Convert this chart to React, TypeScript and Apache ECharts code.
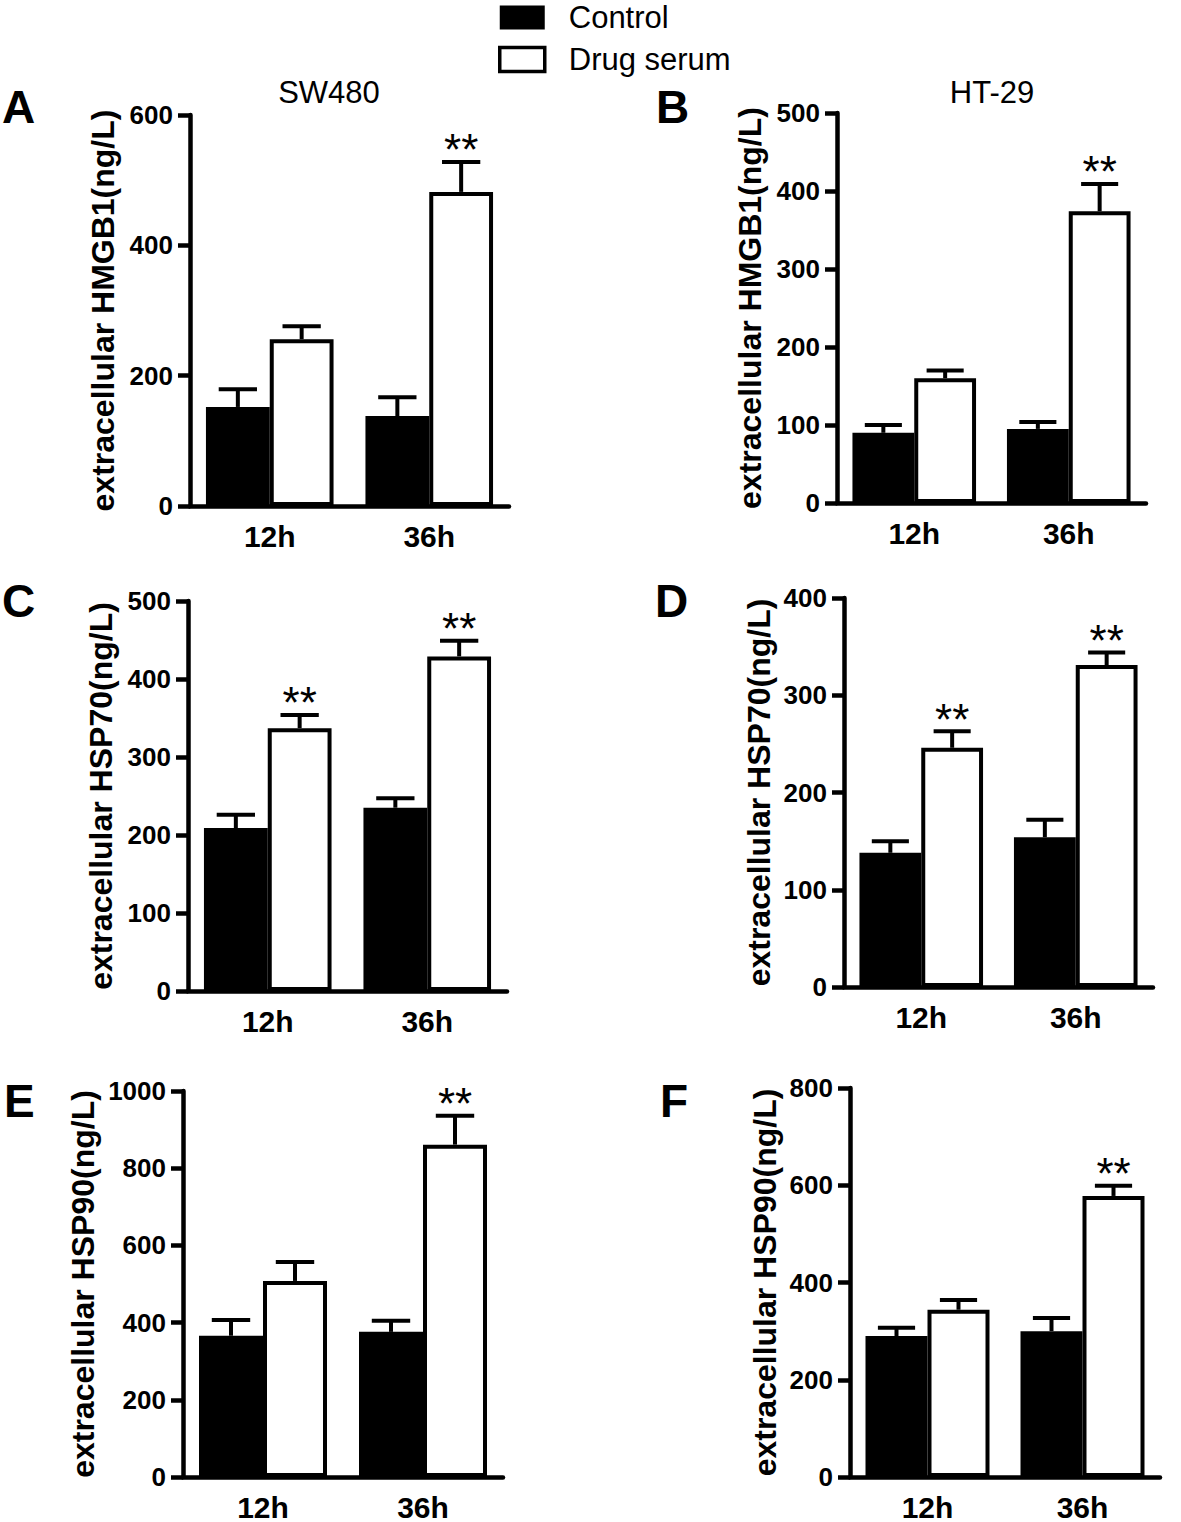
import React, { useEffect, useRef } from "react";
import * as echarts from "echarts";

const categories = ["12h", "36h"];
const seriesNames = ["Control", "Drug serum"];
const panelLetters = ["A", "B", "C", "D", "E", "F"];
const columnTitles = ["SW480", "HT-29"];
const yAxisNames = [
  "extracellular HMGB1(ng/L)",
  "extracellular HMGB1(ng/L)",
  "extracellular HSP70(ng/L)",
  "extracellular HSP70(ng/L)",
  "extracellular HSP90(ng/L)",
  "extracellular HSP90(ng/L)",
];
const yMax = [600, 500, 500, 400, 1000, 800];
const yInterval = [200, 100, 100, 100, 200, 200];

// means and SEM (upper error bar) per panel, [12h, 36h]
const controlMean = [
  [152, 138],
  [90, 95],
  [209, 235],
  [138, 154],
  [366, 376],
  [290, 300],
];
const controlSem = [
  [27, 29],
  [10, 9],
  [17, 12],
  [12, 18],
  [41, 29],
  [17, 27],
];
const drugMean = [
  [256, 482],
  [160, 374],
  [337, 429],
  [246, 331],
  [508, 861],
  [344, 578],
];
const drugSem = [
  [20, 46],
  [10, 35],
  [17, 20],
  [17, 13],
  [49, 75],
  [20, 21],
];
// significance marks (**) on drug serum bars
const drugSig = [
  [0, 1],
  [0, 1],
  [1, 1],
  [1, 1],
  [0, 1],
  [0, 1],
];

// layout (pixels)
const gridBoxes = [
  { left: 190, top: 115, width: 319, height: 391, nameGap: 71 },
  { left: 837, top: 113, width: 309, height: 390, nameGap: 71 },
  { left: 188, top: 601, width: 319, height: 390, nameGap: 71 },
  { left: 844, top: 598, width: 309, height: 389, nameGap: 69 },
  { left: 183, top: 1091, width: 320, height: 388, nameGap: 84 },
  { left: 850, top: 1088, width: 310, height: 389, nameGap: 69 },
];
const letterPos = [
  [2, 107],
  [656, 107],
  [2, 601],
  [655, 601],
  [4, 1101],
  [660, 1101],
];
const titlePos = [
  [329, 92],
  [992, 92],
];

const FONT = "Arial, 'Liberation Sans', Helvetica, sans-serif";

function makeErrRender(side: number) {
  return (params: any, api: any) => {
    const ci = api.value(0);
    const mean = api.value(1);
    const sem = api.value(2);
    const sig = api.value(3);
    const band = api.size([1, 0])[0];
    const c = api.coord([ci, mean]);
    const t = api.coord([ci, mean + sem]);
    const x = c[0] + side * band * 0.2;
    const capHalf = band * 0.4 * 0.3;
    const st = { stroke: "#000", lineWidth: 4 };
    const children: any[] = [
      { type: "line", shape: { x1: x, y1: c[1], x2: x, y2: t[1] }, style: st },
      { type: "line", shape: { x1: x - capHalf, y1: t[1], x2: x + capHalf, y2: t[1] }, style: st },
    ];
    if (sig) {
      children.push({
        type: "text",
        x: x,
        y: t[1] - 12,
        style: {
          text: "**",
          fontSize: 44,
          fontFamily: FONT,
          fill: "#000",
          textAlign: "center",
          textVerticalAlign: "middle",
        },
      });
    }
    return { type: "group", children };
  };
}

export default function App() {
  const ref = useRef<HTMLDivElement>(null);
  useEffect(() => {
    if (!ref.current) return;
    const chart = echarts.init(ref.current, null, { renderer: "svg" });
    const grids: any[] = [];
    const xAxes: any[] = [];
    const yAxes: any[] = [];
    const series: any[] = [];
    gridBoxes.forEach((g, i) => {
      grids.push({ left: g.left, top: g.top, width: g.width, height: g.height, containLabel: false });
      xAxes.push({
        type: "category",
        gridIndex: i,
        data: categories,
        axisLine: { lineStyle: { color: "#000", width: 4.5 } },
        axisTick: { alignWithLabel: true, length: 12, lineStyle: { color: "#000", width: 4.5 } },
        axisLabel: { color: "#000", fontSize: 30, fontWeight: "bold", fontFamily: FONT, margin: 15 },
        splitLine: { show: false },
      });
      yAxes.push({
        type: "value",
        gridIndex: i,
        min: 0,
        max: yMax[i],
        interval: yInterval[i],
        name: yAxisNames[i],
        nameLocation: "middle",
        nameGap: g.nameGap,
        nameTextStyle: { color: "#000", fontSize: 32, fontWeight: "bold", fontFamily: FONT },
        axisLine: { show: true, lineStyle: { color: "#000", width: 4.5 } },
        axisTick: { show: true, length: 12, lineStyle: { color: "#000", width: 4.5 } },
        axisLabel: {
          color: "#000",
          fontSize: 26,
          fontWeight: "bold",
          fontFamily: FONT,
          margin: 17,
          formatter: (v: number) => String(v),
        },
        splitLine: { show: false },
      });
      series.push({
        type: "bar",
        name: seriesNames[0],
        xAxisIndex: i,
        yAxisIndex: i,
        data: controlMean[i],
        barGap: "0%",
        barCategoryGap: "20%",
        itemStyle: { color: "#000" },
      });
      series.push({
        type: "bar",
        name: seriesNames[1],
        xAxisIndex: i,
        yAxisIndex: i,
        data: drugMean[i],
        barGap: "0%",
        barCategoryGap: "20%",
        itemStyle: { color: "#fff", borderColor: "#000", borderWidth: 4 },
      });
      series.push({
        type: "custom",
        name: "errC" + i,
        xAxisIndex: i,
        yAxisIndex: i,
        z: 5,
        renderItem: makeErrRender(-1),
        data: categories.map((_, k) => [k, controlMean[i][k], controlSem[i][k], 0]),
      });
      series.push({
        type: "custom",
        name: "errD" + i,
        xAxisIndex: i,
        yAxisIndex: i,
        z: 5,
        renderItem: makeErrRender(1),
        data: categories.map((_, k) => [k, drugMean[i][k], drugSem[i][k], drugSig[i][k]]),
      });
    });

    const graphics: any[] = [];
    panelLetters.forEach((l, i) => {
      graphics.push({
        type: "text",
        x: letterPos[i][0],
        y: letterPos[i][1],
        style: {
          text: l,
          fontSize: 46,
          fontWeight: "bold",
          fontFamily: FONT,
          fill: "#000",
          textAlign: "left",
          textVerticalAlign: "middle",
        },
      });
    });
    columnTitles.forEach((t, i) => {
      graphics.push({
        type: "text",
        x: titlePos[i][0],
        y: titlePos[i][1],
        style: {
          text: t,
          fontSize: 31,
          fontFamily: FONT,
          fill: "#000",
          textAlign: "center",
          textVerticalAlign: "middle",
        },
      });
    });

    chart.setOption({
      animation: false,
      backgroundColor: "#fff",
      legend: {
        orient: "vertical",
        left: 498,
        top: 2,
        padding: 0,
        itemWidth: 45,
        itemHeight: 24,
        itemGap: 11,
        icon: "rect",
        selectedMode: false,
        textStyle: { color: "#000", fontSize: 31, fontFamily: FONT, padding: [0, 0, 0, 19] },
        data: [
          { name: seriesNames[0], itemStyle: { color: "#000", borderWidth: 0 } },
          { name: seriesNames[1], itemStyle: { color: "#fff", borderColor: "#000", borderWidth: 3.5 } },
        ],
      },
      grid: grids,
      xAxis: xAxes,
      yAxis: yAxes,
      series,
      graphic: graphics,
    });
    return () => chart.dispose();
  }, []);
  return (
    <div
      ref={ref}
      style={{ position: "absolute", left: 0, top: 0, width: 1181, height: 1522, background: "#fff" }}
    />
  );
}
